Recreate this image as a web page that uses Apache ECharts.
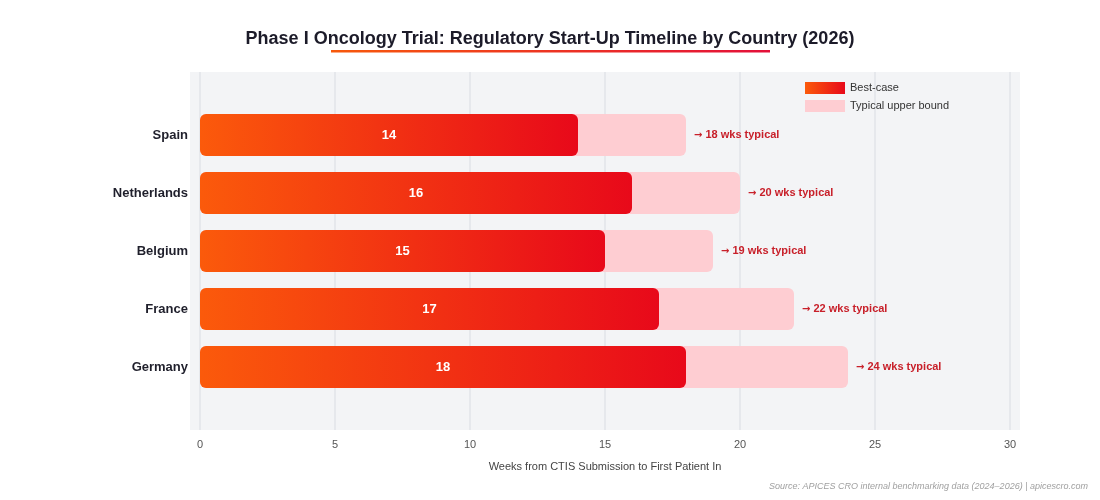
<!DOCTYPE html>
<html>
<head>
<meta charset="utf-8">
<script src="https://cdn.jsdelivr.net/npm/echarts@6/dist/echarts.min.js"></script>
<style>
html,body{margin:0;padding:0;background:#fff;}
#c{width:1100px;height:500px;}
</style>
</head>
<body>
<div id="c"></div>
<script>
const countries = ['Spain', 'Netherlands', 'Belgium', 'France', 'Germany'];
const bestCase = [14, 16, 15, 17, 18];
const typicalUpper = [18, 20, 19, 22, 24];
const xTicks = [0, 5, 10, 15, 20, 25, 30];

const chart = echarts.init(document.getElementById('c'));
const FONT = 'Liberation Sans, Arial, sans-serif';
const barGrad = new echarts.graphic.LinearGradient(0, 0, 1, 0, [
  {offset: 0, color: '#fb5a0b'},
  {offset: 1, color: '#e8091a'}
]);

chart.setOption({
  backgroundColor: '#ffffff',
  textStyle: {fontFamily: FONT},
  title: {
    text: 'Phase I Oncology Trial: Regulatory Start-Up Timeline by Country (2026)',
    left: 'center', top: 25,
    textStyle: {fontFamily: FONT, fontSize: 18, fontWeight: 'bold', color: '#1c1b29'}
  },
  graphic: [
    {type: 'rect', z: -10, silent: true, shape: {x: 190, y: 72, width: 830, height: 358},
     style: {fill: '#f3f4f6'}},
    {type: 'rect', silent: true, shape: {x: 331, y: 50, width: 439, height: 2.5},
     style: {fill: new echarts.graphic.LinearGradient(0, 0, 1, 0, [
       {offset: 0, color: '#f7590b'}, {offset: 1, color: '#e3103a'}])}},
    {type: 'text', silent: true, right: 12, top: 482,
     style: {text: 'Source: APICES CRO internal benchmarking data (2024\u20132026) | apicescro.com',
       font: 'italic 9px ' + FONT, fill: '#a0a0a0'}}
  ],
  legend: {
    data: ['Best-case', 'Typical upper bound'],
    orient: 'vertical', left: 800, top: 77,
    itemWidth: 40, itemHeight: 12, itemGap: 6,
    icon: 'rect',
    textStyle: {fontFamily: FONT, fontSize: 11, color: '#333'}
  },
  grid: [
    {left: 200, right: 90, top: 106, bottom: 104},
    {left: 200, right: 90, top: 72, bottom: 70}
  ],
  xAxis: [
    {gridIndex: 0, type: 'value', min: 0, max: 30, interval: 5, show: false,
     splitLine: {show: false}},
    {gridIndex: 1, type: 'value', min: xTicks[0], max: xTicks[xTicks.length - 1], interval: 5,
     axisLine: {show: false}, axisTick: {show: false},
     axisLabel: {margin: 9, fontSize: 11, color: '#555', fontFamily: FONT},
     splitLine: {show: true, lineStyle: {color: '#e2e4e8', width: 1.5}},
     name: 'Weeks from CTIS Submission to First Patient In',
     nameLocation: 'middle', nameGap: 31,
     nameTextStyle: {fontSize: 11, color: '#444', fontFamily: FONT}}
  ],
  yAxis: [
    {gridIndex: 0, type: 'category', data: countries, inverse: true,
     axisLine: {show: false}, axisTick: {show: false},
     axisLabel: {margin: 12, fontSize: 13, fontWeight: 'bold', color: '#1f1f2b', fontFamily: FONT}},
    {gridIndex: 1, type: 'value', show: false, splitLine: {show: false}}
  ],
  series: [
    {
      name: 'Typical upper bound', type: 'bar', xAxisIndex: 0, yAxisIndex: 0,
      data: typicalUpper, barWidth: 42, barGap: '-100%',
      itemStyle: {color: '#fecdd2', borderRadius: 6},
      label: {show: true, position: 'right', distance: 8,
        formatter: p => '{a|\u2192} ' + p.value + ' wks typical',
        fontSize: 11, fontWeight: 'bold', color: '#c8202a', fontFamily: FONT,
        rich: {a: {fontFamily: 'DejaVu Sans', fontSize: 10, fontWeight: 'bold', color: '#c8202a'}}},
      z: 2
    },
    {
      name: 'Best-case', type: 'bar', xAxisIndex: 0, yAxisIndex: 0,
      data: bestCase, barWidth: 42, barGap: '-100%',
      itemStyle: {color: barGrad, borderRadius: 6},
      label: {show: true, position: 'inside', fontSize: 13, fontWeight: 'bold',
        color: '#ffffff', fontFamily: FONT},
      z: 3
    }
  ]
});
</script>
</body>
</html>
